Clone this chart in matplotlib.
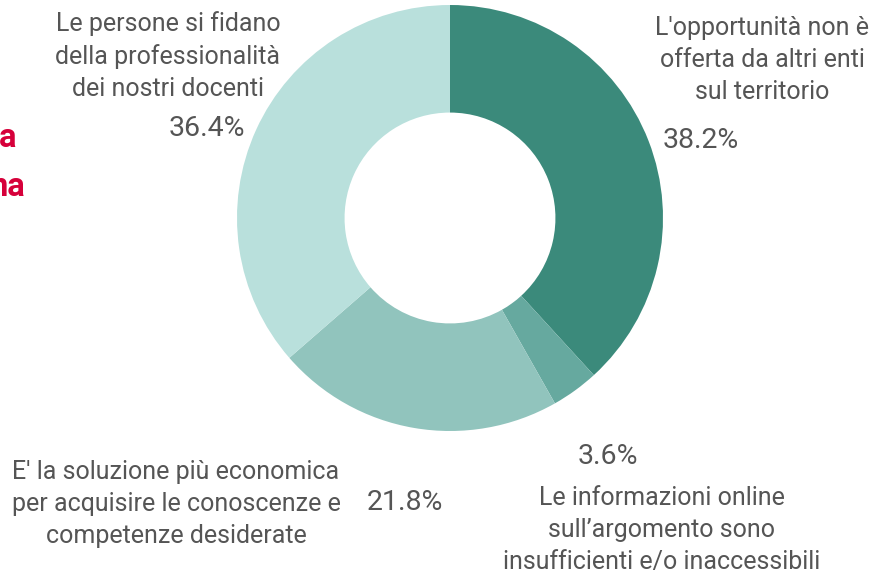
import matplotlib
matplotlib.use("Agg")
import matplotlib.pyplot as plt

labels = ["L'opportunità non è\nofferta da altri enti\nsul territorio",
          "Le informazioni online\nsull’argomento sono\ninsufficienti e/o inaccessibili",
          "E' la soluzione più economica\nper acquisire le conoscenze e\ncompetenze desiderate",
          "Le persone si fidano\ndella professionalità\ndei nostri docenti"]
values = [38.2, 3.6, 21.8, 36.4]
pct_labels = ["38.2%", "3.6%", "21.8%", "36.4%"]
colors = ["#3b8a7b", "#66a99f", "#91c4bd", "#b9e0dc"]

W, H = 886, 584
fig = plt.figure(figsize=(W/100, H/100), dpi=100)
ax = fig.add_axes([0, 0, 1, 1])

cx, cy, R = 450, 218, 213
ax.pie(values, colors=colors, startangle=90, counterclock=False,
       center=(cx, H - cy), radius=R, wedgeprops=dict(width=R*0.505, linewidth=0),
       frame=True)
ax.set_xlim(0, W)
ax.set_ylim(0, H)
ax.set_aspect("auto")
ax.axis("off")

tc = "#555555"
fs = 18
pfs = 20.5
font = "Roboto"
lab_pos = [(762, 60), (662, 530), (176, 504), (168, 56)]
pct_pos = [(701, 141), (608, 456), (405, 503), (207, 128)]
for lab, (x, y) in zip(labels, lab_pos):
    ax.text(x, H - y, lab, ha="center", va="center", fontsize=fs, color=tc,
            family=font, linespacing=1.42)
for p, (x, y) in zip(pct_labels, pct_pos):
    ax.text(x, H - y, p, ha="center", va="center", fontsize=pfs, color=tc, family=font)

ax.text(16, H - 138, "a", ha="right", va="center", fontsize=23.5, color="#d6003a",
        family=font, fontweight="bold")
ax.text(25, H - 187, "na", ha="right", va="center", fontsize=23.5, color="#d6003a",
        family=font, fontweight="bold")

fig.savefig("out.png", dpi=100)
